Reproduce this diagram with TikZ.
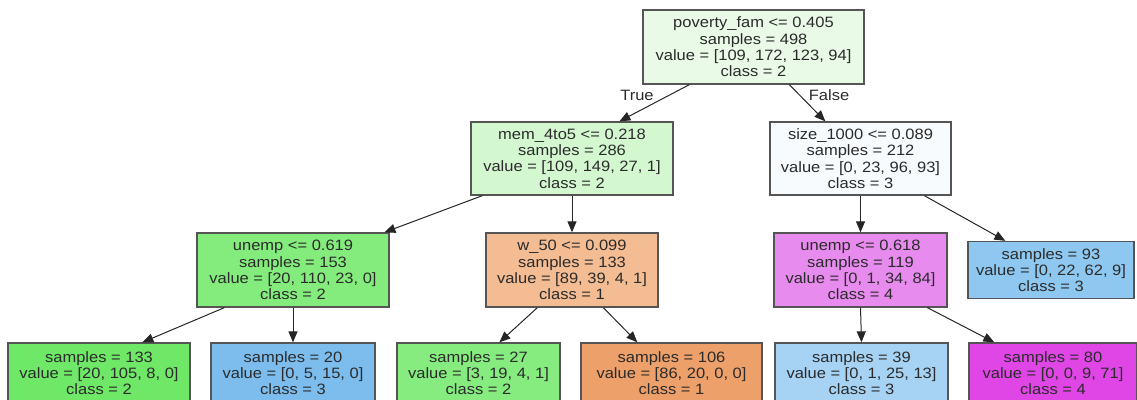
\documentclass[tikz,border=0pt]{standalone}
\usepackage{fontspec}
\setmainfont{Liberation Sans}[FakeStretch=1.1]
\usetikzlibrary{arrows.meta,calc}
\definecolor{c0}{HTML}{E9FBE6}
\definecolor{c1}{HTML}{D3F8D0}
\definecolor{c2}{HTML}{F7FBFE}
\definecolor{c3}{HTML}{84EC7C}
\definecolor{c4}{HTML}{F3BC93}
\definecolor{c5}{HTML}{E88BEE}
\definecolor{c6}{HTML}{8EC8F0}
\definecolor{c7}{HTML}{6FE767}
\definecolor{c8}{HTML}{7CBDEE}
\definecolor{c9}{HTML}{86EC7F}
\definecolor{c10}{HTML}{EDA06A}
\definecolor{c11}{HTML}{A6D3F4}
\definecolor{c12}{HTML}{E046E6}
\definecolor{txt}{HTML}{2B2B2B}
\definecolor{bord}{HTML}{555555}
\tikzset{
  tn/.style={draw=bord, line width=1.3pt, rectangle, align=center, inner sep=0pt,
    font=\fontsize{15pt}{16.3pt}\selectfont, text=txt},
  ed/.style={draw=black!85, line width=1pt, -{Triangle[length=11pt,width=9pt]}},
  lab/.style={font=\fontsize{15pt}{16.3pt}\selectfont, text=txt}
}
\begin{document}
\begin{tikzpicture}[x=1pt,y=-1pt]
\useasboundingbox (0,0) rectangle (1137,399);
\begin{scope}
\clip (0,0) rectangle (1137,399);
\node[tn, fill=c0, minimum width=221pt, minimum height=74pt] (root) at (753.5,47) {poverty\_fam <= 0.405\\samples = 498\\value = [109, 172, 123, 94]\\class = 2};
\node[tn, fill=c1, minimum width=202pt, minimum height=73pt] (mem) at (572,158.5) {mem\_4to5 <= 0.218\\samples = 286\\value = [109, 149, 27, 1]\\class = 2};
\node[tn, fill=c2, minimum width=181pt, minimum height=73pt] (size) at (860.5,158.5) {size\_1000 <= 0.089\\samples = 212\\value = [0, 23, 96, 93]\\class = 3};
\node[tn, fill=c3, minimum width=192pt, minimum height=74pt] (un1) at (293,270) {unemp <= 0.619\\samples = 153\\value = [20, 110, 23, 0]\\class = 2};
\node[tn, fill=c4, minimum width=172pt, minimum height=74pt] (w50) at (572,270) {w\_50 <= 0.099\\samples = 133\\value = [89, 39, 4, 1]\\class = 1};
\node[tn, fill=c5, minimum width=173pt, minimum height=74pt] (un2) at (860.5,270) {unemp <= 0.618\\samples = 119\\value = [0, 1, 34, 84]\\class = 4};
\node[tn, fill=c6, minimum width=166pt, minimum height=57pt] (l93) at (1051,270) {samples = 93\\value = [0, 22, 62, 9]\\class = 3};
\node[tn, fill=c7, minimum width=182pt, minimum height=60pt] (l133) at (99,373) {samples = 133\\value = [20, 105, 8, 0]\\class = 2};
\node[tn, fill=c8, minimum width=164pt, minimum height=60pt] (l20) at (293,373) {samples = 20\\value = [0, 5, 15, 0]\\class = 3};
\node[tn, fill=c9, minimum width=163pt, minimum height=60pt] (l27) at (478.5,373) {samples = 27\\value = [3, 19, 4, 1]\\class = 2};
\node[tn, fill=c10, minimum width=181pt, minimum height=60pt] (l106) at (671.5,373) {samples = 106\\value = [86, 20, 0, 0]\\class = 1};
\node[tn, fill=c11, minimum width=173pt, minimum height=60pt] (l39) at (861.5,373) {samples = 39\\value = [0, 1, 25, 13]\\class = 3};
\node[tn, fill=c12, minimum width=168pt, minimum height=60pt] (l80) at (1053,373) {samples = 80\\value = [0, 0, 9, 71]\\class = 4};
\end{scope}
% edges
\draw[ed] ($(root.south west)+(47,0)$) -- ($(mem.north west)+(149,0)$);
\draw[ed] ($(root.south west)+(147,0)$) -- ($(size.north west)+(56,0)$);
\node[lab] (t) at (637,95) {True};
\node[lab] (f) at (829,95) {False};
\draw[ed] ($(mem.south west)+(12,0)$) -- ($(un1.north west)+(188,0)$);
\draw[ed] (mem.south) -- (w50.north);
\draw[ed] (size.south) -- (un2.north);
\draw[ed] ($(size.south west)+(155,0)$) -- ($(l93.north west)+(38,0)$);
\draw[ed] ($(un1.south west)+(28,0)$) -- ($(l133.north west)+(135,0)$);
\draw[ed] (un1.south) -- (l20.north);
\draw[ed] ($(w50.south west)+(52,0)$) -- ($(l27.north west)+(103,0)$);
\draw[ed] ($(w50.south west)+(118,0)$) -- ($(l106.north west)+(57,0)$);
\draw[ed] (un2.south) -- (l39.north);
\draw[ed] ($(un2.south west)+(154,0)$) -- ($(l80.north west)+(26,0)$);
\end{tikzpicture}
\end{document}
